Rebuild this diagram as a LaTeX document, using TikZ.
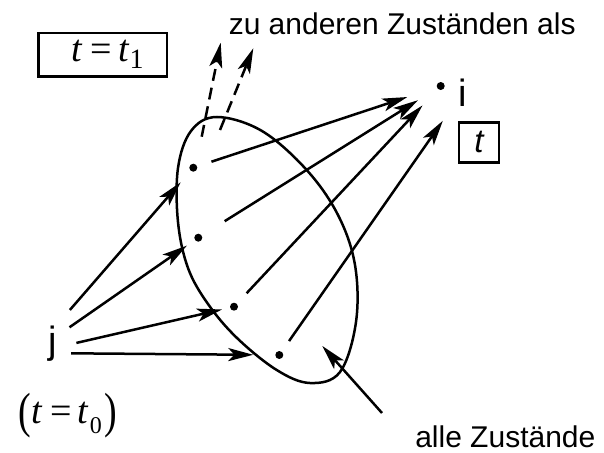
\documentclass[tikz,border=0pt]{standalone}
\usepackage{graphicx}
\usepackage{fontspec}
\setmainfont{Liberation Sans}
\newfontfamily\tms{Liberation Serif}
\usetikzlibrary{positioning, arrows.meta}

\begin{document}
\begin{tikzpicture}[
  x=1pt, y=-1pt,
  line width=2.5pt,
  every node/.style={inner sep=0pt},
  zustand/.style={circle, fill, minimum size=8pt, outer sep=0pt},
  marke/.style={font=\fontsize{38}{38}\selectfont},
  txt/.style={font=\fontsize{30}{30}\selectfont},
  rahmen/.style={draw, line width=2.4pt, outer sep=0pt},
  arr/.style={-{Stealth[length=25pt, width=13pt, inset=6pt]}},
  weg/.style={arr, dash pattern=on 12pt off 7pt}
]
\useasboundingbox (0,0) rectangle (604,452);

% Menge aller Zustaende
\draw plot[smooth cycle, tension=0.6] coordinates {
  (217,117) (262,131) (306.7,170) (338,215) (355,265) (356,322)
  (340,372) (310,383) (276.7,370) (237,338) (208,304) (188,268)
  (178,222) (178,168) (191,131)};

\node[zustand] (d1) at (193.3,167.7) {};
\node[zustand] (d2) at (198.3,237.7) {};
\node[zustand] (d3) at (234,306.7) {};
\node[zustand] (d4) at (279.3,355) {};
\node[zustand] (i) at (440.7,86) {};
\node[marke, anchor=base west] (ilab) at (456.8,106.7) {i};
\node[marke, anchor=base, inner xsep=15pt] (j) at (53,353) {j};
\node[rahmen, minimum width=40pt, minimum height=40pt,
  font=\fontsize{33}{33}\selectfont\itshape] (tbox) at (479,142.3) {t};
\node[rahmen, minimum width=128.4pt, minimum height=43.3pt,
  font=\tms\fontsize{38}{38}\selectfont] (t1box) at (102.5,54.7)
  {\hspace*{10pt}\textit{t}\hspace{8pt}=\hspace{6pt}\textit{t}\raisebox{-7pt}{\fontsize{28}{28}\selectfont 1}};
\node[anchor=base west, font=\tms\fontsize{38}{38}\selectfont] (t0) at (17,423.3)
  {\raisebox{-4pt}{\scalebox{1}[1.3]{(}}\hspace{1pt}\textit{t}\hspace{7pt}=\hspace{6pt}\textit{t}\hspace{1pt}\raisebox{-10pt}{\fontsize{24}{24}\selectfont 0}\hspace{3pt}\raisebox{-4pt}{\scalebox{1}[1.3]{)}}};
\node[txt, anchor=base west] (andere) at (227.5,35) {zu anderen Zuständen als};
\node[txt, anchor=base west] (alle) at (414,447) {alle Zustände};

\coordinate (w1a) at (201.7,136.7);
\coordinate (w1b) at (220.7,42.7);
\coordinate (w2a) at (220,130);
\coordinate (w2b) at (253.3,48.3);
\coordinate (zeigA) at (382,413);
\coordinate (zeigB) at (322.3,346);

% von j in die Menge
\draw[arr, shorten <=57pt, shorten >=15.3pt] (j.base west) -- (d1);
\draw[arr, shorten <=45pt, shorten >=9.9pt] (j.base west) -- (d2);
\draw[arr, shorten <=45pt, shorten >=8.3pt] (j.base west) -- (d3);
\draw[arr, shorten <=38.7pt, shorten >=22pt] (j.base west) -- (d4);

% aus der Menge nach i
\draw[arr, shorten <=15.1pt, shorten >=31.2pt] (d1) -- (i);
\draw[arr, shorten <=27.1pt, shorten >=22.8pt] (d2) -- (i);
\draw[arr, shorten <=14.4pt, shorten >=22.6pt] (d3) -- (i);
\draw[arr, shorten <=13pt, shorten >=34pt] (d4) -- (ilab.center);

\draw[weg] (w1a) -- (w1b);
\draw[weg] (w2a) -- (w2b);
\draw[arr] (zeigA) -- (zeigB);
\end{tikzpicture}
\end{document}
